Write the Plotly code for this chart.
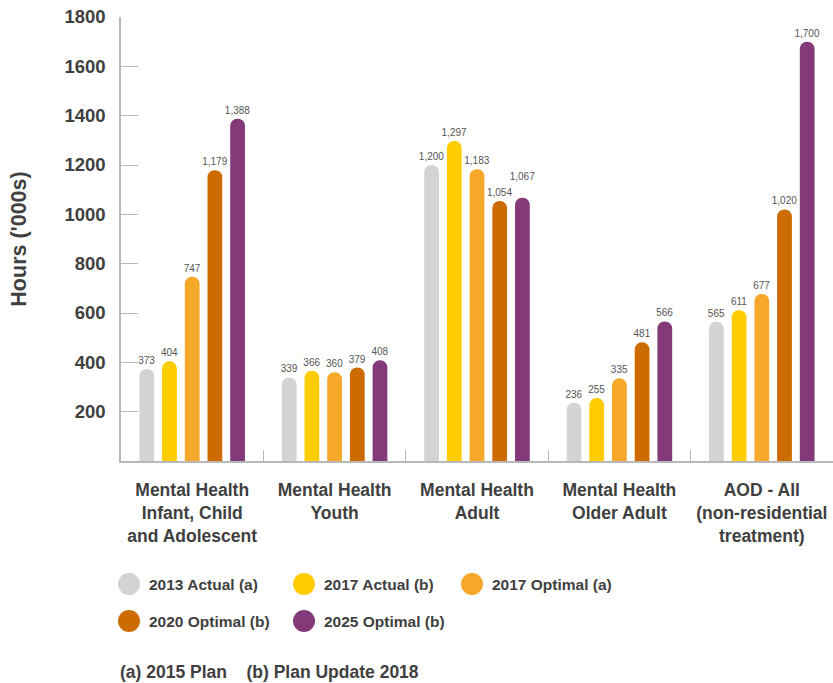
import plotly.graph_objects as go

categories = [
    "Mental Health<br>Infant, Child<br>and Adolescent",
    "Mental Health<br>Youth",
    "Mental Health<br>Adult",
    "Mental Health<br>Older Adult",
    "AOD - All<br>(non-residential<br>treatment)",
]
series_names = ["2013 Actual (a)", "2017 Actual (b)", "2017 Optimal (a)",
                "2020 Optimal (b)", "2025 Optimal (b)"]
actual_2013 = [373, 339, 1200, 236, 565]
actual_2017 = [404, 366, 1297, 255, 611]
optimal_2017 = [747, 360, 1183, 335, 677]
optimal_2020 = [1179, 379, 1054, 481, 1020]
optimal_2025 = [1388, 408, 1067, 566, 1700]
series_values = [actual_2013, actual_2017, optimal_2017, optimal_2020, optimal_2025]
colors = ["#D3D3D3", "#FFCC00", "#F6A82B", "#CC6C00", "#843A78"]
y_ticks = [200, 400, 600, 800, 1000, 1200, 1400, 1600, 1800]
footnote = "(a) 2015 Plan\u00a0\u00a0\u00a0\u00a0(b) Plan Update 2018"

FONT = "Arial, Liberation Sans, sans-serif"
TXT = "#404040"

W, H = 833, 683
ML, MR, MT, MB = 121, 0, 17, 222
PW, PH = W - ML - MR, H - MT - MB


def px_x(px):
    return (px - ML) / PW


def px_y(py):
    return 1 - (py - MT) / PH


def label_texts(i):
    """Value labels; lift a 4-digit label that would collide with its left neighbour."""
    out = []
    for j, v in enumerate(series_values[i]):
        t = f"{v:,}"
        if i > 0:
            prev = series_values[i - 1][j]
            if v >= 1000 and prev >= 1000 and v > prev and v - prev < 40:
                t = t + "<br>\u00a0"
        out.append(t)
    return out


fig = go.Figure()
for i, (name, vals, col) in enumerate(zip(series_names, series_values, colors)):
    fig.add_trace(go.Bar(
        x=categories, y=vals, name=name,
        marker=dict(color=col, line=dict(width=0)),
        text=label_texts(i), texttemplate="%{text}", textposition="outside",
        textfont=dict(size=10, color="#555555", family=FONT),
        constraintext="none",
        cliponaxis=False, showlegend=False, hoverinfo="x+y+name",
    ))

# legend drawn as circles + labels
legend_pos = [(129, 584), (304, 584), (472, 584), (129, 621), (304, 621)]
shapes = []
annotations = []
for (cx, cy), name, col in zip(legend_pos, series_names, colors):
    shapes.append(dict(
        type="circle", xref="paper", yref="paper",
        xsizemode="pixel", ysizemode="pixel",
        xanchor=px_x(cx), yanchor=px_y(cy),
        x0=-11, x1=11, y0=-11, y1=11,
        fillcolor=col, line=dict(width=0),
    ))
    annotations.append(dict(
        xref="paper", yref="paper", x=px_x(cx + 18), y=px_y(cy),
        xanchor="left", yanchor="middle", showarrow=False,
        text=name, font=dict(size=15.5, color=TXT, family=FONT, weight="bold"),
    ))

annotations.append(dict(
    xref="paper", yref="paper", x=px_x(118), y=px_y(672),
    xanchor="left", yanchor="middle", showarrow=False,
    text=footnote, font=dict(size=17.5, color=TXT, family=FONT, weight="bold"),
))

fig.update_layout(
    width=W, height=H,
    margin=dict(l=ML, r=MR, t=MT, b=MB, autoexpand=False),
    paper_bgcolor="white", plot_bgcolor="white",
    barmode="group", bargap=0.203, bargroupgap=0.35,
    barcornerradius="50%",
    font=dict(family=FONT, color=TXT),
    shapes=shapes, annotations=annotations,
    showlegend=False,
)
fig.update_xaxes(
    showline=True, linecolor="#B8B8B8", linewidth=2,
    ticks="inside", tickson="boundaries", ticklen=11, tickcolor="#B8B8B8", tickwidth=1,
    tickfont=dict(size=17.5, color=TXT, family=FONT, weight="bold"),
    ticklabelstandoff=12, showgrid=False, automargin=False,
)
fig.update_yaxes(
    range=[0, 1800], tickvals=y_ticks,
    showline=True, linecolor="#B8B8B8", linewidth=1.5,
    ticks="inside", ticklen=17, tickcolor="#B8B8B8", tickwidth=1,
    tickfont=dict(size=18.5, color=TXT, family=FONT, weight="bold"),
    ticklabelstandoff=10, showgrid=False, zeroline=False, automargin=False,
    title=dict(text="Hours ('000s)", font=dict(size=21.5, color=TXT, family=FONT, weight="bold"),
               standoff=32),
)

fig.write_html(
    "out.html",
    config={"displayModeBar": False},
    post_script="document.body.style.margin='0';document.body.style.overflow='hidden';",
)
